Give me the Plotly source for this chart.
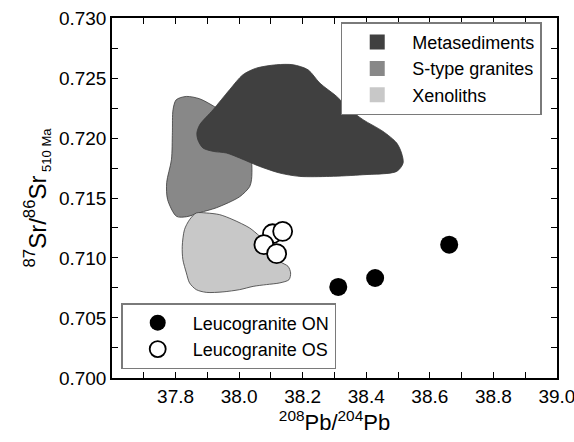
import plotly.graph_objects as go

# ---- data ----
meta_x = [37.867, 37.870, 37.886, 37.918, 37.960, 38.002, 38.065, 38.128, 38.191, 38.285,
          38.390, 38.496, 38.516, 38.511, 38.496, 38.453, 38.390, 38.349, 38.307, 38.254,
          38.217, 38.170, 38.117, 38.054, 38.012, 37.970, 37.918, 37.876]
meta_y = [0.72042, 0.71986, 0.71917, 0.71889, 0.71875, 0.71833, 0.71763, 0.71708, 0.71680, 0.71680,
          0.71694, 0.71722, 0.71792, 0.71875, 0.71958, 0.72055, 0.72153, 0.72236, 0.72347, 0.72458,
          0.72569, 0.72611, 0.72611, 0.72583, 0.72528, 0.72403, 0.72236, 0.72111]

stype_x = [37.834, 37.876, 37.923, 37.986, 38.033, 38.040, 38.039, 38.033, 38.002, 37.929,
           37.876, 37.835, 37.803, 37.775, 37.772, 37.787, 37.790, 37.792, 37.802]
stype_y = [0.72347, 0.72327, 0.72261, 0.72153, 0.71903, 0.71778, 0.71653, 0.71594, 0.71511, 0.71419,
           0.71378, 0.71344, 0.71347, 0.71486, 0.71628, 0.71819, 0.72044, 0.72236, 0.72319]

xeno_x = [37.865, 37.897, 37.939, 37.981, 38.033, 38.065, 38.107, 38.128, 38.154, 38.162,
          38.157, 38.128, 38.086, 38.044, 38.002, 37.949, 37.897, 37.865, 37.844, 37.834,
          37.823, 37.821, 37.828, 37.844]
xeno_y = [0.71375, 0.71375, 0.71361, 0.71319, 0.71250, 0.71180, 0.71069, 0.70972, 0.70930, 0.70875,
          0.70819, 0.70792, 0.70778, 0.70763, 0.70736, 0.70717, 0.70713, 0.70736, 0.70792, 0.70875,
          0.70986, 0.71097, 0.71236, 0.71319]

on_x = [38.312, 38.428, 38.661]
on_y = [0.70758, 0.70833, 0.71111]

os_x = [38.105, 38.137, 38.078, 38.118]
os_y = [0.71202, 0.71222, 0.71111, 0.71036]

region_names = ["Metasediments", "S-type granites", "Xenoliths"]
region_colors = ["#404040", "#888888", "#c8c8c8"]
x_tick_vals = [37.8, 38.0, 38.2, 38.4, 38.6, 38.8, 39.0]
y_tick_vals = [0.700, 0.705, 0.710, 0.715, 0.720, 0.725, 0.730]

FONT = "Arial, Liberation Sans, sans-serif"

fig = go.Figure()

# filled regions (drawn behind points), S-type under metasediments
for xs, ys, col in [(stype_x, stype_y, region_colors[1]),
                    (meta_x, meta_y, region_colors[0]),
                    (xeno_x, xeno_y, region_colors[2])]:
    fig.add_trace(go.Scatter(
        x=xs + xs[:1], y=ys + ys[:1], mode="lines", fill="toself",
        fillcolor=col, line=dict(color="#3a3a3a", width=0.8, shape="spline", smoothing=0.8),
        showlegend=False, hoverinfo="skip"))

# legend entries for regions
for name, col in zip(region_names, region_colors):
    fig.add_trace(go.Scatter(
        x=[None], y=[None], mode="markers", name=name,
        marker=dict(symbol="square", size=15, color=col, line=dict(width=0)),
        legend="legend", legendgroup=name))

fig.add_trace(go.Scatter(
    x=os_x, y=os_y, mode="markers", name="Leucogranite OS",
    marker=dict(symbol="circle", size=19, color="white", line=dict(color="black", width=1.8)),
    legend="legend2", legendgroup="os", legendrank=2))
fig.add_trace(go.Scatter(
    x=on_x, y=on_y, mode="markers", name="Leucogranite ON",
    marker=dict(symbol="circle", size=18, color="black", line=dict(width=0)),
    legend="legend2", legendgroup="on", legendrank=1))

axis_common = dict(
    showline=True, linecolor="black", linewidth=1.5, mirror="ticks",
    ticks="inside", ticklen=6, tickwidth=1.3, tickcolor="black",
    showgrid=False, zeroline=False, ticklabeloverflow="allow",
    tickfont=dict(family=FONT, size=19, color="black"),
)

fig.update_xaxes(
    range=[37.6, 39.0002], tickvals=x_tick_vals, tickformat=".1f",
    minor=dict(dtick=0.1, tick0=37.6, ticks="inside", ticklen=6, tickwidth=1.3, tickcolor="black", showgrid=False),
    title=dict(text="<sup>208</sup>Pb/<sup>204</sup>Pb", font=dict(family=FONT, size=22, color="black"), standoff=4),
    **axis_common)
fig.update_yaxes(
    range=[0.69999, 0.73001], tickvals=y_tick_vals, tickformat=".3f",
    minor=dict(dtick=0.0025, tick0=0.700, ticks="inside", ticklen=6, tickwidth=1.3, tickcolor="black", showgrid=False),
    title=dict(text="<sup>87</sup>Sr/<sup>86</sup>Sr<sub><span style=\"font-size:13px\"> 510 Ma</span></sub>",
               font=dict(family=FONT, size=24, color="black"), standoff=6),
    **axis_common)

fig.update_layout(
    width=574, height=442,
    margin=dict(l=112, r=17, t=18, b=64, autoexpand=False),
    plot_bgcolor="white", paper_bgcolor="white",
    font=dict(family=FONT, color="black"),
    legend=dict(
        x=0.514, y=0.988, xanchor="left", yanchor="top",
        bgcolor="white", bordercolor="#7a7a7a", borderwidth=1.5,
        font=dict(family=FONT, size=18, color="black"),
        itemwidth=60, entrywidth=165, tracegroupgap=0, traceorder="normal",
    ),
    legend2=dict(
        x=0.0207, y=0.025, xanchor="left", yanchor="bottom",
        bgcolor="white", bordercolor="#7a7a7a", borderwidth=1.5,
        font=dict(family=FONT, size=18, color="black"),
        itemwidth=60, entrywidth=160, tracegroupgap=4, traceorder="normal",
    ),
)

fig.write_html("out.html")
